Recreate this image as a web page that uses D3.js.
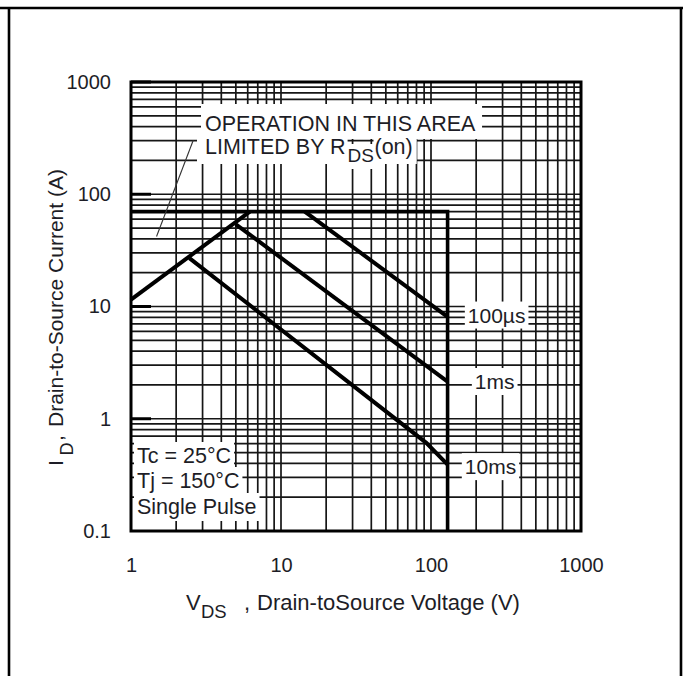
<!DOCTYPE html>
<html><head><meta charset="utf-8">
<script src="https://cdn.jsdelivr.net/npm/d3@7"></script>
<style>
html,body{margin:0;padding:0;background:#fff;}
svg{display:block;}
text{font-family:"Liberation Sans", Arial, Helvetica, sans-serif; fill:#1d1d26;}
</style></head><body>
<svg id="c" width="683" height="676"></svg>
<script>
// ---- data ----
const xTicks = [1, 10, 100, 1000];
const xTickLabels = ["1", "10", "100", "1000"];
const yTicks = [0.1, 1, 10, 100, 1000];
const yTickLabels = ["0.1", "1", "10", "100", "1000"];
// boundary: current limit and voltage limit
const limitV = [1, 129, 129];
const limitI = [70, 70, 0.1];
// RDS(on) limit
const rdsV = [1, 6.2];
const rdsI = [11.5, 70];
// pulse curves
const us100V = [14.4, 129];
const us100I = [70, 8.1];
const ms1V = [5.0, 129];
const ms1I = [54, 2.14];
const ms10V = [2.45, 93, 129];
const ms10I = [27, 0.61, 0.39];
const pulseLabels = ["100µs", "1ms", "10ms"];
const pulseLabelV = [176, 196, 168];
const pulseLabelI = [8.4, 2.15, 0.375];
const conditions = ["Tc = 25°C", "Tj = 150°C", "Single Pulse"];
const pointerV = [2.6, 1.48];
const pointerI = [303, 42];

// ---- layout ----
const svg = d3.select("#c");
const L = 131, R = 581, T = 82, B = 531;
const x = d3.scaleLog().domain([1, 1000]).range([L, R]);
const y = d3.scaleLog().domain([0.1, 1000]).range([B, T]);

svg.append("rect").attr("width", 683).attr("height", 676).attr("fill", "#fff");

// outer frame
const of = svg.append("g").attr("stroke", "#000").attr("stroke-width", 2.6).attr("fill", "none");
of.append("line").attr("x1", 0).attr("x2", 683).attr("y1", 8).attr("y2", 8);
of.append("line").attr("x1", 9).attr("x2", 9).attr("y1", 8).attr("y2", 676);
of.append("line").attr("x1", 681).attr("x2", 681).attr("y1", 8).attr("y2", 676);

// grid
const gridX = [], gridY = [];
for (let k = 0; k < 3; k++) for (let m = 1; m <= 9; m++) gridX.push(m * Math.pow(10, k));
for (let k = -1; k < 3; k++) for (let m = 1; m <= 9; m++) gridY.push(m * Math.pow(10, k));
const grid = svg.append("g").attr("stroke", "#161616").attr("stroke-width", 1.7);
grid.selectAll(".gx").data(gridX).join("line")
  .attr("x1", d => x(d)).attr("x2", d => x(d)).attr("y1", T).attr("y2", B);
grid.selectAll(".gy").data(gridY).join("line")
  .attr("y1", d => y(d)).attr("y2", d => y(d)).attr("x1", L).attr("x2", R);

// decade ticks on the left
svg.append("g").attr("stroke", "#000").attr("stroke-width", 3)
  .selectAll("line").data(yTicks.slice(1)).join("line")
  .attr("x1", L).attr("x2", L + 20).attr("y1", d => y(d)).attr("y2", d => y(d));

// data lines
const line = d3.line().x(d => x(d[0])).y(d => y(d[1]));
const zip = (a, b) => a.map((v, i) => [v, b[i]]);
const dl = svg.append("g").attr("fill", "none").attr("stroke", "#000")
  .attr("stroke-linejoin", "miter").attr("stroke-linecap", "butt");
dl.append("path").attr("d", line(zip(limitV, limitI))).attr("stroke-width", 3.6);
dl.append("path").attr("d", line(zip(rdsV, rdsI))).attr("stroke-width", 4);
dl.append("path").attr("d", line(zip(us100V, us100I))).attr("stroke-width", 4);
dl.append("path").attr("d", line(zip(ms1V, ms1I))).attr("stroke-width", 4);
dl.append("path").attr("d", line(zip(ms10V, ms10I))).attr("stroke-width", 4);

// pointer
svg.append("path").attr("d", line(zip(pointerV, pointerI)))
  .attr("stroke", "#333").attr("stroke-width", 1.1).attr("fill", "none");

// frame
svg.append("rect").attr("x", L).attr("y", T).attr("width", R - L).attr("height", B - T)
  .attr("fill", "none").attr("stroke", "#000").attr("stroke-width", 3);

// text layers
const bgG = svg.append("g");
const txG = svg.append("g");
const boxed = [];
function addText(g, s, px, py, size, pad) {
  const t = g.append("text").attr("x", px).attr("y", py).attr("font-size", size).text(s);
  if (pad) boxed.push([t, pad]);
  return t;
}

// annotation
addText(txG, "OPERATION IN THIS AREA", 205, 131, 21.5, [4, 6, 8, 3]);
const a2 = addText(txG, "LIMITED BY R", 205, 154, 21.5, [8, 2, 4, 5]);
const w2 = a2.node().getComputedTextLength();
const a3 = addText(txG, "DS", 205 + w2 + 2, 162, 19, [1, 1, 1, 3]);
const w3 = a3.node().getComputedTextLength();
addText(txG, "(on)", 205 + w2 + 2 + w3 + 0.5, 154, 21.5, [1, 4, 4, 5]);

// pulse labels
pulseLabels.forEach((s, i) => {
  addText(txG, s, x(pulseLabelV[i]), y(pulseLabelI[i]), 21, [3, 3, 2, 2]).attr("dy", "0.36em");
});

// conditions
const condY = [463, 488, 514];
conditions.forEach((s, i) => addText(txG, s, 137, condY[i], 21.5, [3, 3, 2, 2]));

// axes tick labels
const ax = svg.append("g").attr("transform", `translate(0,${B})`)
  .call(d3.axisBottom(x).tickValues(xTicks).tickFormat((d, i) => xTickLabels[i]).tickSize(0).tickPadding(27));
const ay = svg.append("g").attr("transform", `translate(${L},0)`)
  .call(d3.axisLeft(y).tickValues(yTicks).tickFormat((d, i) => yTickLabels[i]).tickSize(0).tickPadding(20));
[ax, ay].forEach(a => {
  a.select(".domain").remove();
  a.selectAll("text").attr("font-size", 20).attr("font-family", '"Liberation Sans", Arial, sans-serif').attr("fill", "#1d1d26");
});

// x title
const xt = svg.append("g");
xt.append("text").attr("x", 186).attr("y", 610).attr("font-size", 22).text("V");
xt.append("text").attr("x", 201).attr("y", 618).attr("font-size", 18.5).text("DS");
xt.append("text").attr("x", 244).attr("y", 610).attr("font-size", 22).text(",");
xt.append("text").attr("x", 257).attr("y", 610).attr("font-size", 22).text("Drain-toSource Voltage (V)");

// y title
const yt = svg.append("g").attr("transform", "translate(63,466) rotate(-90)");
yt.append("text").attr("x", 0).attr("y", 0).attr("font-size", 21).text("I");
yt.append("text").attr("x", 10.5).attr("y", 10).attr("font-size", 18).text("D");
yt.append("text").attr("x", 25).attr("y", 0).attr("font-size", 21).text(",");
yt.append("text").attr("x", 39).attr("y", 0).attr("font-size", 21).text("Drain-to-Source Current (A)");

// white boxes behind in-plot text
boxed.forEach(([t, p]) => {
  const b = t.node().getBBox();
  bgG.append("rect").attr("x", b.x - p[0]).attr("y", b.y - p[2])
    .attr("width", b.width + p[0] + p[1]).attr("height", b.height + p[2] + p[3])
    .attr("fill", "#fff");
});
</script>
</body></html>
